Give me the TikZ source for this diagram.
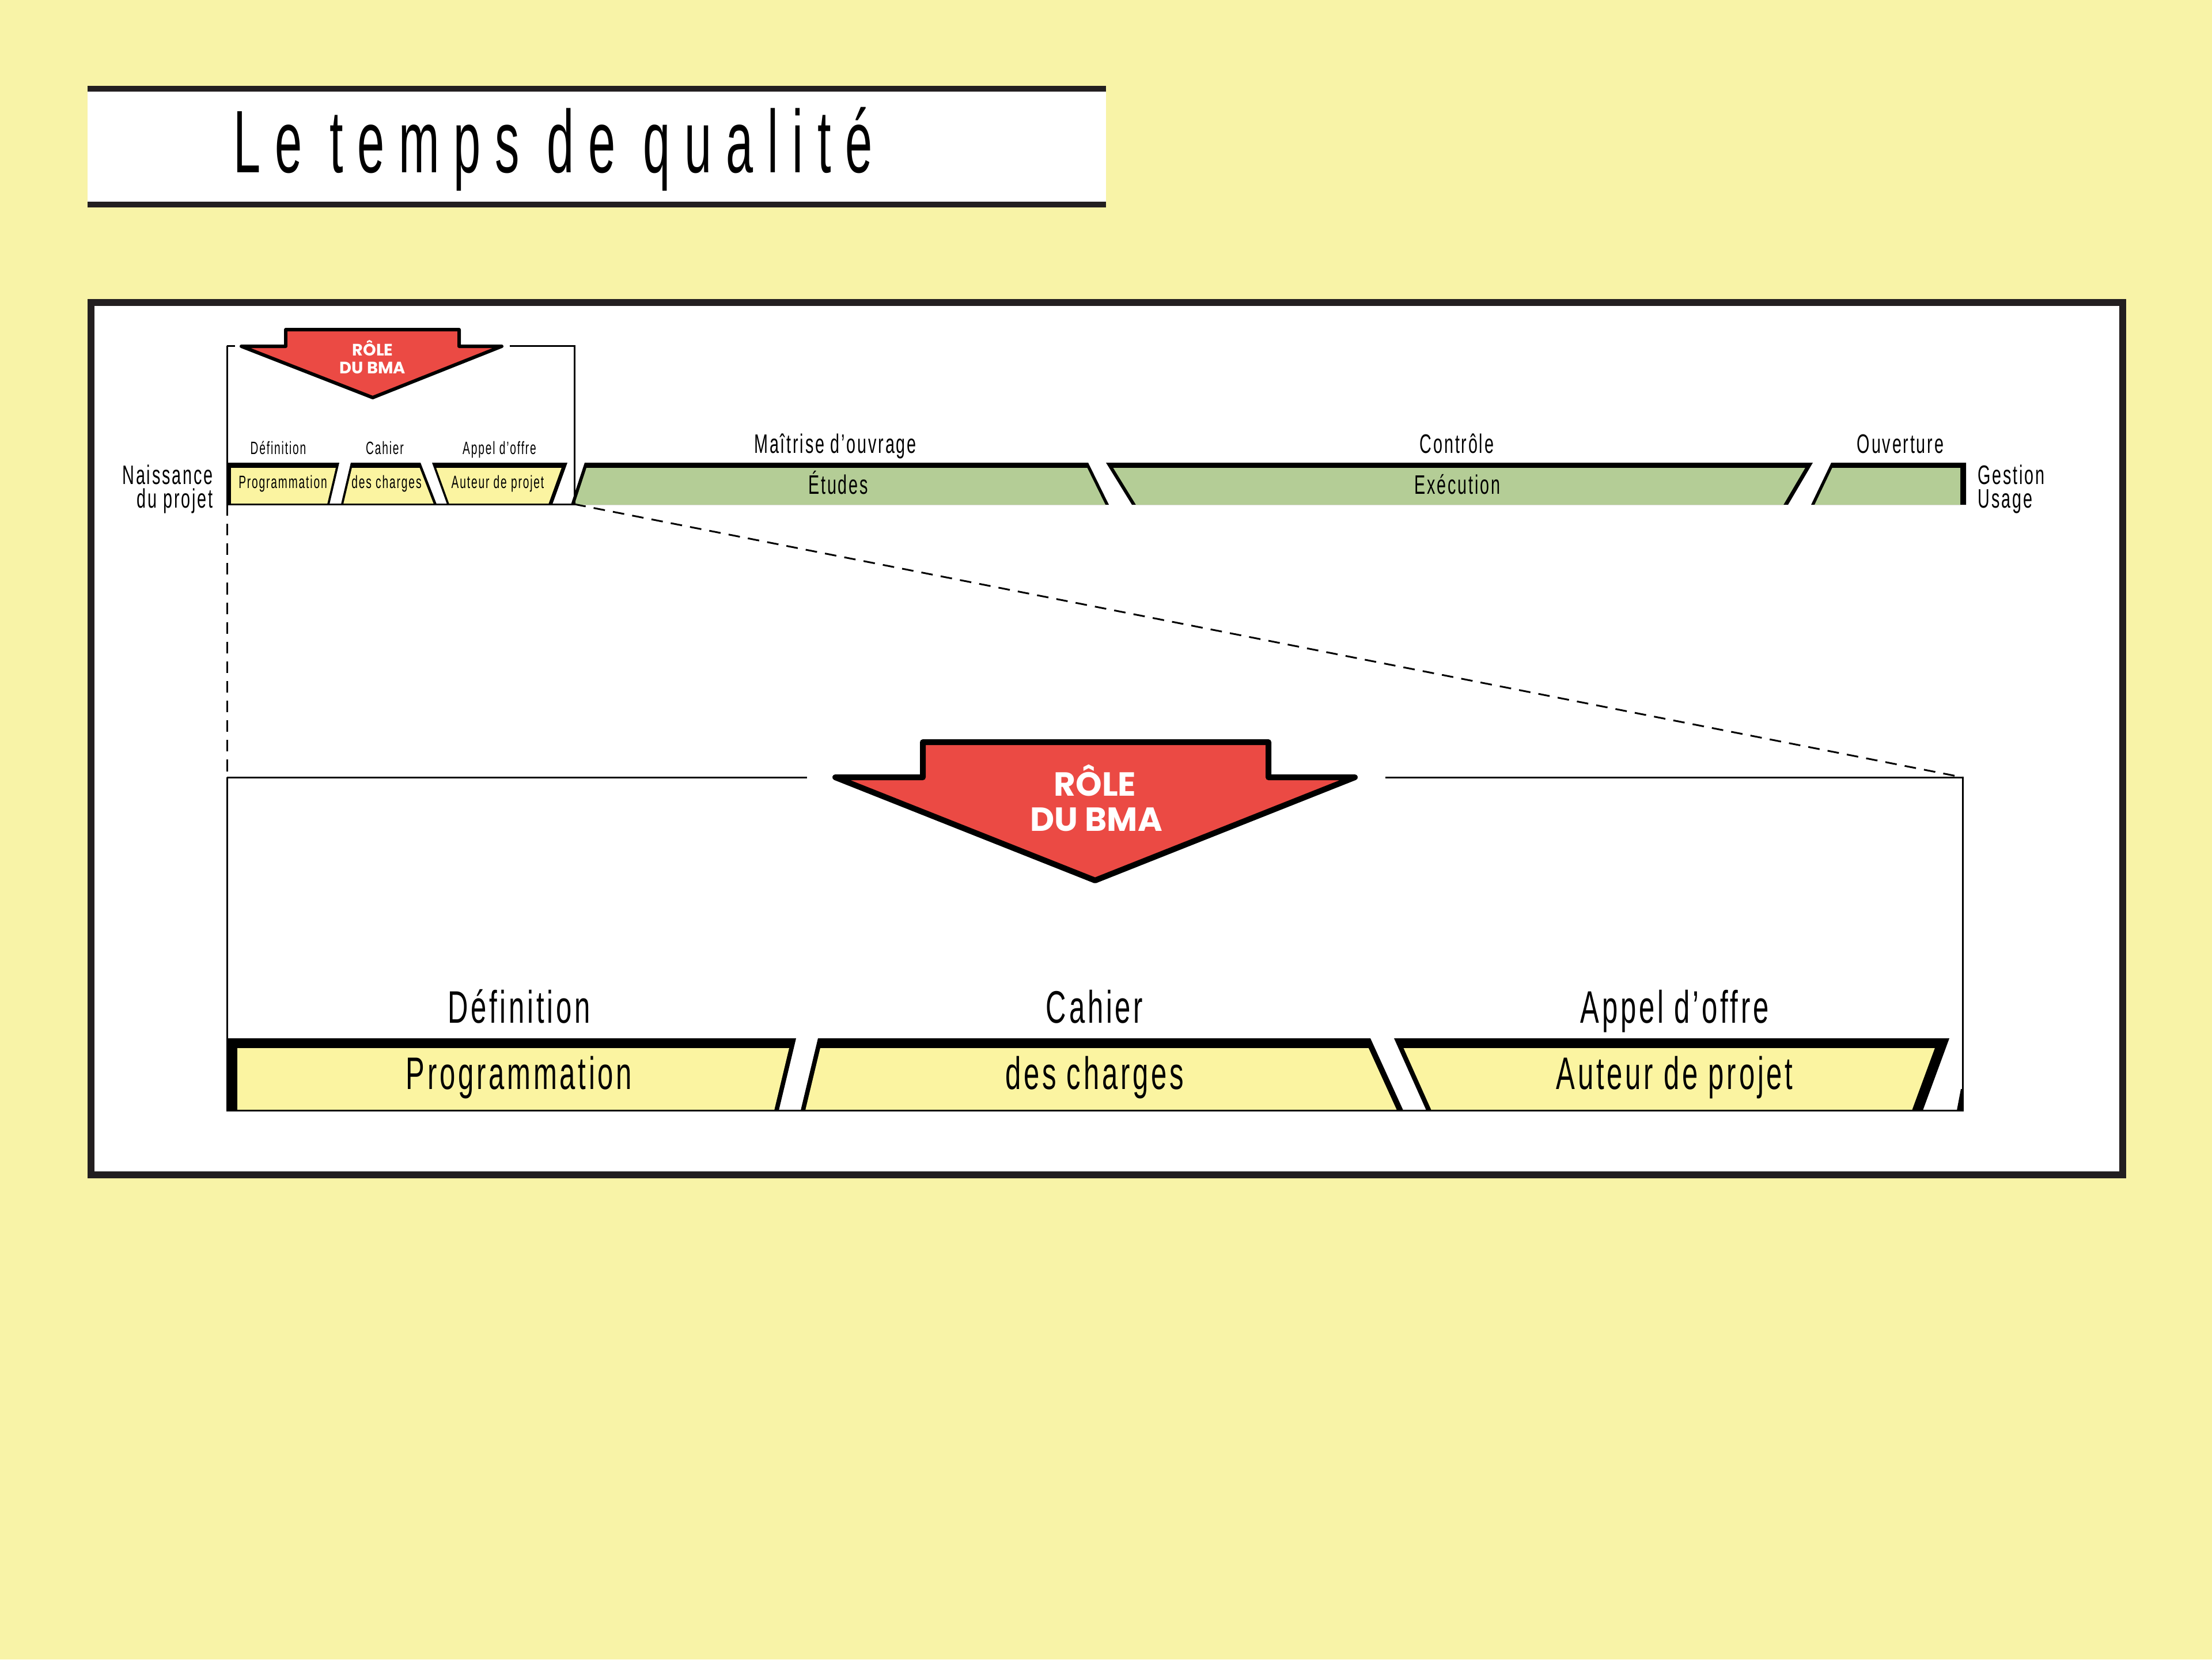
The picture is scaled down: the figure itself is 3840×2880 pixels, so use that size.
\documentclass[tikz,border=0pt]{standalone}
\usepackage{fontspec}
\usetikzlibrary{calc}
\newfontfamily\labelfont[FakeStretch=0.62,LetterSpace=6]{Liberation Sans}
\newfontfamily\titlefont[FakeStretch=0.55,LetterSpace=16]{Liberation Sans}
\newfontfamily\rolefont{Poppins}
\definecolor{bgyellow}{HTML}{F8F3A7}
\definecolor{boxyellow}{HTML}{FBF4A1}
\definecolor{phasegreen}{HTML}{B4CD96}
\definecolor{bmared}{HTML}{EB4A44}
\definecolor{inkblack}{HTML}{231F20}

\begin{document}
\begin{tikzpicture}[x=0.01cm, y=-0.01cm]
  \tikzstyle{big}=[font=\labelfont\fontsize{22.5pt}{26pt}\selectfont, anchor=base, inner sep=0pt]
  \tikzstyle{mid}=[font=\labelfont\fontsize{13.2pt}{15pt}\selectfont, anchor=base, inner sep=0pt]
  \tikzstyle{small}=[font=\labelfont\fontsize{8.8pt}{10pt}\selectfont, anchor=base, inner sep=0pt]
  \tikzstyle{rolebig}=[font=\rolefont\bfseries\fontsize{16.5pt}{18pt}\selectfont, text=white, anchor=base, inner sep=0pt]
  \tikzstyle{rolesmall}=[font=\rolefont\bfseries\fontsize{8.2pt}{9pt}\selectfont, text=white, anchor=base, inner sep=0pt]
  \tikzstyle{bma}=[fill=bmared, draw=black, line join=round, line cap=round]
  \tikzstyle{bracket}=[draw=black, line width=0.85pt]
  \tikzstyle{zoomcut}=[draw=black, line width=0.85pt, dash pattern=on 5.7pt off 4pt]

  % page, title band and frame
  \fill[bgyellow] (0,0) rectangle (3840,2880);
  \fill[white] (152,154) rectangle (1920,355);
  \draw[inkblack, line width=3.1pt] (152,154) -- (1920,154) (152,355) -- (1920,355);
  \node[anchor=base, inner sep=0pt, font=\titlefont\fontsize{43.8pt}{50pt}\selectfont] (title) at (960,299) {Le temps de qualité};
  \draw[inkblack, line width=3.4pt, fill=white] (158,525) rectangle (3685,2039);

  % small strip (BMA phases)
  \foreach \tl/\tr/\bl/\br/\dl/\dr in {394/589/394/572/7/4, 609/730/592/758/4/5, 750/985/776/959/4/7}{
    \fill[black] (\tl,803) -- (\tr,803) -- (\br,875) -- (\bl,875) -- cycle;
    \fill[boxyellow] ($(\tl,803)!0.125!(\bl,875)+(\dl,0)$) -- ($(\tr,803)!0.125!(\br,875)-(\dr,0)$) -- (\br-\dr,875) -- (\bl+\dl,875) -- cycle;
  }
  % green strip
  \foreach \tl/\tr/\bl/\br/\dl/\dr in {1015/1889/991/1925/6/6, 1920/3147/1965/3104/7/8, 3179/3413/3144/3413/6/10}{
    \fill[black] (\tl,803) -- (\tr,803) -- (\br,876) -- (\bl,876) -- cycle;
    \fill[phasegreen] ($(\tl,803)!0.125!(\bl,876)+(\dl,0)$) -- ($(\tr,803)!0.125!(\br,876)-(\dr,0)$) -- (\br-\dr,876) -- (\bl+\dl,876) -- cycle;
  }
  % big strip
  \foreach \tl/\tr/\bl/\br/\dl/\dr in {394/1382/394/1352/18/8, 1420/2379/1390/2436/8/11, 2420/3384/2476/3338/9/19}{
    \fill[black] (\tl,1802) -- (\tr,1802) -- (\br,1927) -- (\bl,1927) -- cycle;
    \fill[boxyellow] ($(\tl,1802)!0.136!(\bl,1927)+(\dl,0)$) -- ($(\tr,1802)!0.136!(\br,1927)-(\dr,0)$) -- (\br-\dr,1927) -- (\bl+\dl,1927) -- cycle;
  }
  \fill[black] (3404,1890) -- (3408,1890) -- (3408,1927) -- (3397,1927) -- cycle;

  % brackets and zoom lines
  \coordinate (sTL) at (394,600);
  \coordinate (sTR) at (997,600);
  \coordinate (sBL) at (394,875);
  \coordinate (sBR) at (997,875);
  \coordinate (bTL) at (394,1349);
  \coordinate (bTR) at (3407,1349);
  \coordinate (bBL) at (394,1927);
  \coordinate (bBR) at (3407,1927);
  \draw[bracket] (sTL) -- (408,600);
  \draw[bracket] (885,600) -- (sTR) -- (sBR) -- (sBL) -- (sTL);
  \draw[zoomcut] (sBL) -- (bTL);
  \draw[zoomcut] (sBR) -- (bTR);
  \draw[bracket] (bTL) -- (1401,1349);
  \draw[bracket] (2405,1349) -- (bTR) -- (bBR) -- (bBL) -- (bTL);

  % role arrows
  \draw[bma, line width=1.7pt] (419,601) -- (496,601) -- (496,572) -- (797,572) -- (797,601) -- (871,601) -- (647,690) -- cycle;
  \node[rolesmall] (roleS1) at (647,617) {RÔLE};
  \node[rolesmall] (roleS2) at (647,648) {DU BMA};
  \draw[bma, line width=2.85pt] (1450,1349) -- (1602,1349) -- (1602,1288) -- (2202,1288) -- (2202,1349) -- (2352,1349) -- (1901,1528) -- cycle;
  \node[rolebig] (roleB1) at (1901,1381) {RÔLE};
  \node[rolebig] (roleB2) at (1903,1442) {DU BMA};

  % labels, top timeline
  \node[mid, anchor=base east] (naiss) at (370,840) {Naissance};
  \node[mid, anchor=base east] (projet) at (370,881) {du projet};
  \node[small] (defS) at (483,788) {Définition};
  \node[small] (cahS) at (668,788) {Cahier};
  \node[small] (appS) at (867,788) {Appel d’offre};
  \node[small] (progS) at (491,847) {Programmation};
  \node[small] (chargS) at (671,847) {des charges};
  \node[small] (autS) at (864,847) {Auteur de projet};
  \node[mid] (moa) at (1450,786) {Maîtrise d’ouvrage};
  \node[mid] (ctrl) at (2529,786) {Contrôle};
  \node[mid] (ouv) at (3299,786) {Ouverture};
  \node[mid] (etu) at (1455,857) {Études};
  \node[mid] (exe) at (2530,857) {Exécution};
  \node[mid, anchor=base west] (gest) at (3433,840) {Gestion};
  \node[mid, anchor=base west] (usage) at (3433,881) {Usage};

  % labels, zoomed strip
  \node[big] (defB) at (901,1775) {Définition};
  \node[big] (cahB) at (1900,1775) {Cahier};
  \node[big] (appB) at (2907,1775) {Appel d’offre};
  \node[big] (progB) at (901,1890) {Programmation};
  \node[big] (chargB) at (1900,1890) {des charges};
  \node[big] (autB) at (2907,1890) {Auteur de projet};
\end{tikzpicture}
\end{document}
